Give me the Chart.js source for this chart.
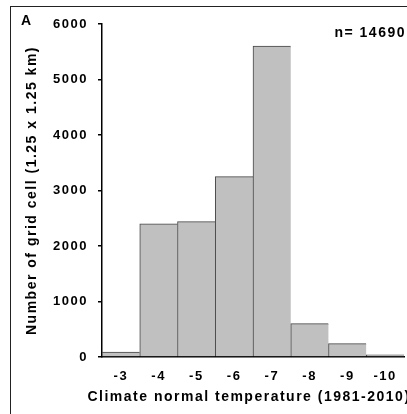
<!DOCTYPE html>
<html><head><meta charset="utf-8">
<script src="https://cdn.jsdelivr.net/npm/chart.js@4.4.1/dist/chart.umd.min.js"></script>
<style>html,body{margin:0;padding:0;overflow:hidden;background:#fff}#wrap{width:440px;height:414px}</style>
</head><body><div id="wrap"><canvas id="c" width="440" height="414"></canvas></div>
<script>
const categories = ['-3', '-4', '-5', '-6', '-7', '-8', '-9', '-10'];
const counts = [90, 2400, 2440, 3250, 5600, 600, 240, 40];
const yMin = 0, yMax = 6000, yStep = 1000;
const panelLabel = 'A';
const sampleNote = 'n= 14690';
const xTitle = 'Climate normal temperature (1981-2010)';
const yTitle = 'Number of grid cell (1.25 x 1.25 km)';

const FONT = '"Liberation Sans", Arial, sans-serif';
const LS = '1.5px';

const deco = {
  id: 'deco',
  beforeLayout(c) { c.ctx.letterSpacing = LS; },
  beforeDraw(c) {
    const ctx = c.ctx;
    ctx.letterSpacing = LS;
    ctx.save();
    ctx.strokeStyle = '#222';
    ctx.lineWidth = 1;
    ctx.strokeRect(10.5, 6.5, 600, 600);
    ctx.restore();
  },
  afterDraw(c) {
    const ctx = c.ctx;
    const area = c.chartArea;
    ctx.save();
    ctx.letterSpacing = LS;
    ctx.fillStyle = '#000';
    ctx.font = 'bold 14px ' + FONT;
    ctx.textBaseline = 'alphabetic';
    ctx.textAlign = 'left';
    ctx.fillText(panelLabel, 21, 25);
    ctx.textAlign = 'right';
    ctx.fillText(sampleNote, 406, 37);
    // x axis title (drawn here so it is not squeezed to the plot width)
    ctx.textAlign = 'center';
    ctx.textBaseline = 'middle';
    ctx.fillText(xTitle, (area.left + area.right) / 2 - 4, 397);
    ctx.restore();
  }
};

new Chart(document.getElementById('c'), {
  type: 'bar',
  data: {
    labels: categories,
    datasets: [{
      data: counts,
      backgroundColor: '#c0c0c0',
      borderColor: '#454545',
      borderWidth: {top: 1, left: 1, right: 0, bottom: 0},
      barPercentage: 1,
      categoryPercentage: 1
    }]
  },
  options: {
    responsive: false,
    devicePixelRatio: 1,
    animation: false,
    layout: {padding: {top: 24, right: 36, left: 0, bottom: 0}},
    plugins: {legend: {display: false}, tooltip: {enabled: false}},
    scales: {
      x: {
        grid: {display: false, drawTicks: false},
        border: {display: true, color: '#000', width: 1.5},
        ticks: {color: '#000', padding: 12, font: {family: FONT, size: 13, weight: 'bold'}},
        title: {display: false, text: xTitle},
        afterFit(s) { s.height = 57; }
      },
      y: {
        min: yMin, max: yMax,
        ticks: {stepSize: yStep, color: '#000', padding: 10, font: {family: FONT, size: 13, weight: 'bold'},
                callback: v => String(v)},
        grid: {display: true, drawOnChartArea: false, drawTicks: true, tickLength: 4, color: '#000', lineWidth: 1.5},
        border: {display: true, color: '#000', width: 1.5},
        title: {display: true, text: yTitle, color: '#000', padding: {top: 24, bottom: 0},
                font: {family: FONT, size: 14, weight: 'bold'}},
        afterFit(s) { s.width = 102; }
      }
    }
  },
  plugins: [deco]
});
</script>
</body></html>
